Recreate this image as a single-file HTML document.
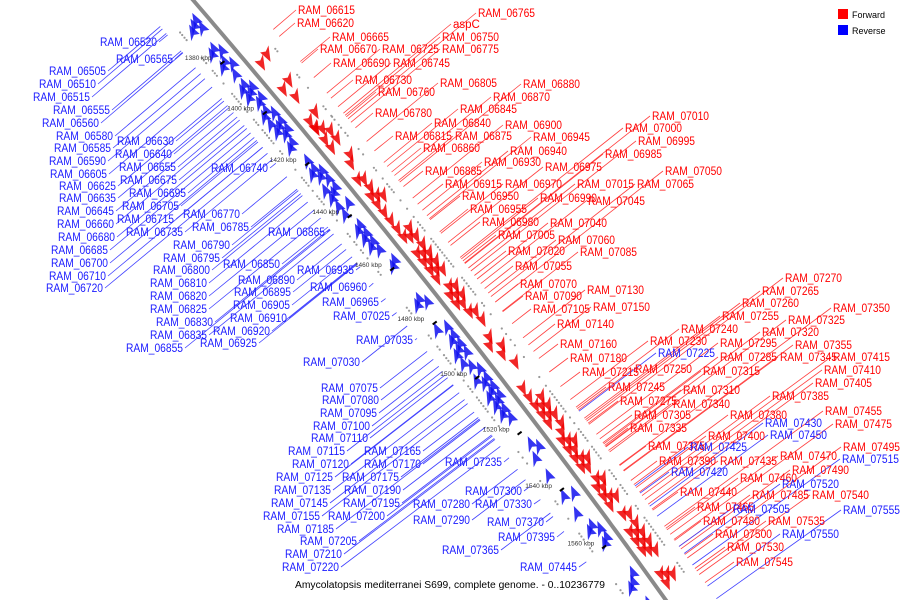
<!DOCTYPE html>
<html><head><meta charset="utf-8"><style>
html,body{margin:0;padding:0;background:#fff;}
svg{display:block;}
text{font-family:"Liberation Sans","DejaVu Sans",sans-serif;}
</style></head><body>
<svg id="chart" width="900" height="600" viewBox="0 0 900 600" xmlns="http://www.w3.org/2000/svg">
<g id="leaders"></g>
<path id="axis" fill="none" stroke="#8a8a8a" stroke-width="4"/>
<g id="genesG"></g>
<g id="ticksG"></g>
<g id="labelsG"></g>
<g>
<rect x="838" y="9" width="10" height="10" fill="#ff0000"/>
<text x="852" y="18" font-size="9" fill="#000">Forward</text>
<rect x="838" y="25" width="10" height="10" fill="#0000ff"/>
<text x="852" y="34" font-size="9" fill="#000">Reverse</text>
</g>
<text x="295" y="588" font-size="10" textLength="310" lengthAdjust="spacingAndGlyphs" fill="#000">Amycolatopsis mediterranei S699, complete genome. - 0..10236779</text>
</svg>
<script>
const geneNames=["RAM_06505","RAM_06510","RAM_06515","RAM_06520","RAM_06555","RAM_06560","RAM_06565","RAM_06580","RAM_06585","RAM_06590","RAM_06605","RAM_06615","RAM_06620","RAM_06625","RAM_06630","RAM_06635","RAM_06640","RAM_06645","RAM_06655","RAM_06660","RAM_06665","RAM_06670","RAM_06675","RAM_06680","RAM_06685","RAM_06690","RAM_06695","RAM_06700","RAM_06705","RAM_06710","RAM_06715","RAM_06720","RAM_06725","RAM_06730","RAM_06735","RAM_06740","RAM_06745","RAM_06750","RAM_06760","RAM_06765","RAM_06770","RAM_06775","RAM_06780","RAM_06785","RAM_06790","RAM_06795","RAM_06800","RAM_06805","RAM_06810","RAM_06815","RAM_06820","RAM_06825","RAM_06830","RAM_06835","RAM_06840","RAM_06845","RAM_06850","RAM_06855","RAM_06860","RAM_06865","RAM_06870","RAM_06875","RAM_06880","RAM_06885","RAM_06890","RAM_06895","RAM_06900","RAM_06905","RAM_06910","RAM_06915","RAM_06920","RAM_06925","RAM_06930","RAM_06935","RAM_06940","RAM_06945","RAM_06950","RAM_06955","RAM_06960","RAM_06965","RAM_06970","RAM_06975","RAM_06980","RAM_06985","RAM_06990","RAM_06995","RAM_07000","RAM_07005","RAM_07010","RAM_07015","RAM_07020","RAM_07025","RAM_07030","RAM_07035","RAM_07040","RAM_07045","RAM_07050","RAM_07055","RAM_07060","RAM_07065","RAM_07070","RAM_07075","RAM_07080","RAM_07085","RAM_07090","RAM_07095","RAM_07100","RAM_07105","RAM_07110","RAM_07115","RAM_07120","RAM_07125","RAM_07130","RAM_07135","RAM_07140","RAM_07145","RAM_07150","RAM_07155","RAM_07160","RAM_07165","RAM_07170","RAM_07175","RAM_07180","RAM_07185","RAM_07190","RAM_07195","RAM_07200","RAM_07205","RAM_07210","RAM_07215","RAM_07220","RAM_07225","RAM_07230","RAM_07235","RAM_07240","RAM_07245","RAM_07250","RAM_07255","RAM_07260","RAM_07265","RAM_07270","RAM_07275","RAM_07280","RAM_07285","RAM_07290","RAM_07295","RAM_07300","RAM_07305","RAM_07310","RAM_07315","RAM_07320","RAM_07325","RAM_07330","RAM_07335","RAM_07340","RAM_07345","RAM_07350","RAM_07355","RAM_07365","RAM_07370","RAM_07375","RAM_07380","RAM_07385","RAM_07390","RAM_07395","RAM_07400","RAM_07405","RAM_07410","RAM_07415","RAM_07420","RAM_07425","RAM_07430","RAM_07435","RAM_07440","RAM_07445","RAM_07450","RAM_07455","RAM_07460","RAM_07465","RAM_07470","RAM_07475","RAM_07480","RAM_07485","RAM_07490","RAM_07495","RAM_07500","RAM_07505","RAM_07515","RAM_07520","RAM_07530","RAM_07535","RAM_07540","RAM_07545","RAM_07550","RAM_07555","aspC"];
const geneStrand=["R","R","R","R","R","R","R","R","R","R","R","F","F","R","R","R","R","R","R","R","F","F","R","R","R","F","R","R","R","R","R","R","F","F","R","R","F","F","F","F","R","F","F","R","R","R","R","F","R","F","R","R","R","R","F","F","R","R","F","R","F","F","F","F","R","R","F","R","R","F","R","R","F","R","F","F","F","F","R","R","F","F","F","F","F","F","F","F","F","F","F","R","R","R","F","F","F","F","F","F","F","R","R","F","F","R","R","F","R","R","R","R","F","R","F","R","F","R","F","R","R","R","F","R","R","R","R","R","R","F","R","R","F","R","F","F","F","F","F","F","F","F","R","F","R","F","R","F","F","F","F","F","R","F","F","F","F","F","R","R","F","F","F","F","R","F","F","F","F","R","R","R","F","F","R","R","F","F","F","F","F","F","F","F","F","F","R","R","R","F","F","F","F","R","R","F"];
const geneKbp=[1362.0,1363.0,1364.1,1365.1,1372.3,1373.3,1374.4,1377.5,1378.5,1379.5,1382.6,1384.7,1385.7,1386.7,1387.8,1388.8,1389.8,1390.8,1392.9,1393.9,1395.0,1396.0,1397.0,1398.1,1399.1,1400.1,1401.1,1402.2,1403.2,1404.2,1405.3,1406.3,1407.3,1408.4,1409.4,1410.4,1411.4,1412.5,1414.5,1415.6,1416.6,1417.6,1418.7,1419.7,1420.7,1421.7,1422.8,1423.8,1424.8,1425.9,1426.9,1427.9,1429.0,1430.0,1431.0,1432.0,1433.1,1434.1,1435.1,1436.2,1437.2,1438.2,1439.3,1440.3,1441.3,1442.3,1443.4,1444.4,1445.4,1446.5,1447.5,1448.5,1449.6,1450.6,1451.6,1452.6,1453.7,1454.7,1455.7,1456.8,1457.8,1458.8,1459.9,1460.9,1461.9,1462.9,1464.0,1465.0,1466.0,1467.1,1468.1,1469.1,1470.2,1471.2,1472.2,1473.2,1474.3,1475.3,1476.3,1477.4,1478.4,1479.4,1480.5,1481.5,1482.5,1483.5,1484.6,1485.6,1486.6,1487.7,1488.7,1489.7,1490.8,1491.8,1492.8,1493.8,1494.9,1495.9,1496.9,1498.0,1499.0,1500.0,1501.1,1502.1,1503.1,1504.1,1505.2,1506.2,1507.2,1508.3,1509.3,1510.3,1511.4,1512.4,1513.4,1514.4,1515.5,1516.5,1517.5,1518.6,1519.6,1520.6,1521.7,1522.7,1523.7,1524.7,1525.8,1526.8,1527.8,1528.9,1529.9,1530.9,1532.0,1533.0,1534.0,1535.0,1536.1,1537.1,1539.2,1540.2,1541.2,1542.3,1543.3,1544.3,1545.3,1546.4,1547.4,1548.4,1549.5,1550.5,1551.5,1552.6,1553.6,1554.6,1555.6,1556.7,1557.7,1558.7,1559.8,1560.8,1561.8,1562.9,1563.9,1564.9,1565.9,1567.0,1568.0,1570.1,1571.1,1573.2,1574.2,1575.2,1576.2,1577.3,1578.3,1411.0];
const tickKbp=[1380,1400,1420,1440,1460,1480,1500,1520,1540,1560];
const tickLabels=["1380 kbp","1400 kbp","1420 kbp","1440 kbp","1460 kbp","1480 kbp","1500 kbp","1520 kbp","1540 kbp","1560 kbp"];
// label layout (pixel placement of each name; L = text ends at x, R = text starts at x)
const labelLayout=[[106,71,"L"],[96,84,"L"],[90,97,"L"],[157,42,"L"],[110,110,"L"],[99,123,"L"],[173,59,"L"],[113,136,"L"],[111,148,"L"],[106,161,"L"],[107,174,"L"],[298,10,"R"],[297,23,"R"],[116,186,"L"],[174,141,"L"],[116,198,"L"],[172,154,"L"],[114,211,"L"],[176,167,"L"],[114,224,"L"],[332,37,"R"],[320,49,"R"],[177,180,"L"],[115,237,"L"],[108,250,"L"],[333,63,"R"],[186,193,"L"],[108,263,"L"],[179,206,"L"],[106,276,"L"],[174,219,"L"],[103,288,"L"],[382,49,"R"],[355,80,"R"],[183,232,"L"],[268,168,"L"],[393,63,"R"],[442,37,"R"],[378,92,"R"],[478,13,"R"],[240,214,"L"],[442,49,"R"],[375,113,"R"],[249,227,"L"],[230,245,"L"],[220,258,"L"],[210,270,"L"],[440,83,"R"],[207,283,"L"],[395,136,"R"],[207,296,"L"],[207,309,"L"],[213,322,"L"],[207,335,"L"],[434,123,"R"],[460,109,"R"],[280,264,"L"],[183,348,"L"],[423,148,"R"],[325,232,"L"],[493,97,"R"],[455,136,"R"],[523,84,"R"],[425,171,"R"],[295,280,"L"],[291,292,"L"],[505,125,"R"],[290,305,"L"],[287,318,"L"],[445,184,"R"],[270,331,"L"],[257,343,"L"],[484,162,"R"],[354,270,"L"],[510,151,"R"],[533,137,"R"],[462,196,"R"],[470,209,"R"],[367,287,"L"],[379,302,"L"],[505,184,"R"],[545,167,"R"],[482,222,"R"],[605,154,"R"],[540,198,"R"],[638,141,"R"],[625,128,"R"],[498,235,"R"],[652,116,"R"],[577,184,"R"],[508,251,"R"],[390,316,"L"],[360,362,"L"],[413,340,"L"],[550,223,"R"],[588,201,"R"],[665,171,"R"],[515,266,"R"],[558,240,"R"],[637,184,"R"],[520,284,"R"],[378,388,"L"],[379,400,"L"],[580,252,"R"],[525,296,"R"],[377,413,"L"],[370,426,"L"],[533,309,"R"],[368,438,"L"],[345,451,"L"],[349,464,"L"],[333,477,"L"],[587,290,"R"],[331,490,"L"],[557,324,"R"],[328,503,"L"],[593,307,"R"],[320,516,"L"],[560,344,"R"],[421,451,"L"],[421,464,"L"],[399,477,"L"],[570,358,"R"],[334,529,"L"],[401,490,"L"],[400,503,"L"],[385,516,"L"],[357,541,"L"],[342,554,"L"],[582,372,"R"],[339,567,"L"],[658,353,"R"],[650,341,"R"],[502,462,"L"],[681,329,"R"],[608,387,"R"],[635,369,"R"],[722,316,"R"],[742,303,"R"],[762,291,"R"],[785,278,"R"],[620,401,"R"],[470,504,"L"],[720,357,"R"],[470,520,"L"],[720,343,"R"],[522,491,"L"],[634,415,"R"],[683,390,"R"],[703,371,"R"],[762,332,"R"],[788,320,"R"],[532,504,"L"],[630,428,"R"],[673,404,"R"],[780,357,"R"],[833,308,"R"],[795,345,"R"],[499,550,"L"],[544,522,"L"],[648,446,"R"],[730,415,"R"],[772,396,"R"],[659,461,"R"],[555,537,"L"],[708,436,"R"],[815,383,"R"],[824,370,"R"],[833,357,"R"],[671,472,"R"],[690,447,"R"],[765,423,"R"],[720,461,"R"],[680,492,"R"],[577,567,"L"],[770,435,"R"],[825,411,"R"],[740,478,"R"],[697,507,"R"],[780,456,"R"],[835,424,"R"],[703,521,"R"],[752,495,"R"],[792,470,"R"],[843,447,"R"],[715,534,"R"],[733,509,"R"],[842,459,"R"],[782,484,"R"],[727,547,"R"],[768,521,"R"],[812,495,"R"],[736,562,"R"],[782,534,"R"],[843,510,"R"],[453,24,"R"]];

const NS="http://www.w3.org/2000/svg";
function yOf(kbp){const d=kbp-1380;return 57+2.5*d+0.0011*d*d;}
function axisX(y){return 193+0.86*y-0.00012*y*y;}
function frameY(y){const x=axisX(y);const a=0.86-0.00024*y;const L=Math.sqrt(1+a*a);
  return {x:x,y:y,tx:a/L,ty:1/L,nx:1/L,ny:-a/L};}
function frame(kbp){return frameY(yOf(kbp));}
function project(px,py){let best=null,bd=1e9;for(let y=-100;y<=760;y+=0.5){const f=frameY(y);const dot=(px-f.x)*f.tx+(py-f.y)*f.ty;if(Math.abs(dot)<bd){bd=Math.abs(dot);best=f;}}return best;}
function mk(tag,attrs,parent){const e=document.createElementNS(NS,tag);for(const k in attrs)e.setAttribute(k,attrs[k]);parent.appendChild(e);return e;}

let d="";for(let y=-10;y<=615;y+=5){d+=(y===-10?"M":"L")+axisX(y).toFixed(1)+" "+y+" ";}
document.getElementById("axis").setAttribute("d",d);

const genesG=document.getElementById("genesG"),leaders=document.getElementById("leaders"),labelsG=document.getElementById("labelsG"),ticksG=document.getElementById("ticksG");

geneNames.forEach(function(name,i){
  const f=frame(geneKbp[i]);const fwd=geneStrand[i]==="F";const s=fwd?1:-1;
  const base=7+(i%3)*5;const dir=fwd?1:-1;
  const P=function(t,n){return [f.x+f.tx*t+s*f.nx*n, f.y+f.ty*t+s*f.ny*n];};
  const pts=[P(-dir*7,base),P(dir*7,base+2),P(-dir*7,base+11),P(-dir*4,base+5)];
  const poly=mk("polygon",{points:pts.map(q=>q[0].toFixed(1)+","+q[1].toFixed(1)).join(" "),fill:fwd?"#ee0000":"#1010ee","fill-opacity":"0.85"},genesG);
  
  
  const dq=P(0,31);
  const dot=mk("circle",{cx:dq[0].toFixed(1),cy:dq[1].toFixed(1),r:"1.1",fill:"#999"},genesG);
  
  
  // leader: perpendicular from label toward the axis
  const lay=labelLayout[i];const lx=lay[0]+(lay[2]==="L"?2:-2),ly=lay[1];
  const pf=project(lx,ly);const sideS=((lx-pf.x)*pf.nx+(ly-pf.y)*pf.ny)>=0?1:-1;
  const elx=pf.x+sideS*pf.nx*42,ely=pf.y+sideS*pf.ny*42;
  const pl=mk("line",{x1:lx,y1:ly,x2:elx.toFixed(1),y2:ely.toFixed(1),stroke:fwd?"#ff4040":"#4040ff","stroke-width":"0.8"},leaders);
  
  
  const t=mk("text",{x:lay[0],y:ly+4,"font-size":"11.5",fill:fwd?"#ff0000":"#1a1aff","text-anchor":lay[2]==="L"?"end":"start"},labelsG);
  if(name.length===9){t.setAttribute("textLength","57");t.setAttribute("lengthAdjust","spacingAndGlyphs");}
  t.textContent=name;
  
  
});

tickKbp.forEach(function(k,i){
  const f=frame(k);
  const t=mk("text",{x:(f.x-30).toFixed(1),y:(f.y+3).toFixed(1),"font-size":"6.5","font-family":"Liberation Serif,serif",fill:"#333","text-anchor":"end"},ticksG);
  t.textContent=tickLabels[i];
  
  
  const m=mk("line",{x1:(f.x-f.nx*25-2).toFixed(1),y1:(f.y-f.ny*25-9).toFixed(1),x2:(f.x-f.nx*25+2).toFixed(1),y2:(f.y-f.ny*25-12).toFixed(1),stroke:"#000","stroke-width":"2"},ticksG);
  
  
});
</script>
</body></html>
